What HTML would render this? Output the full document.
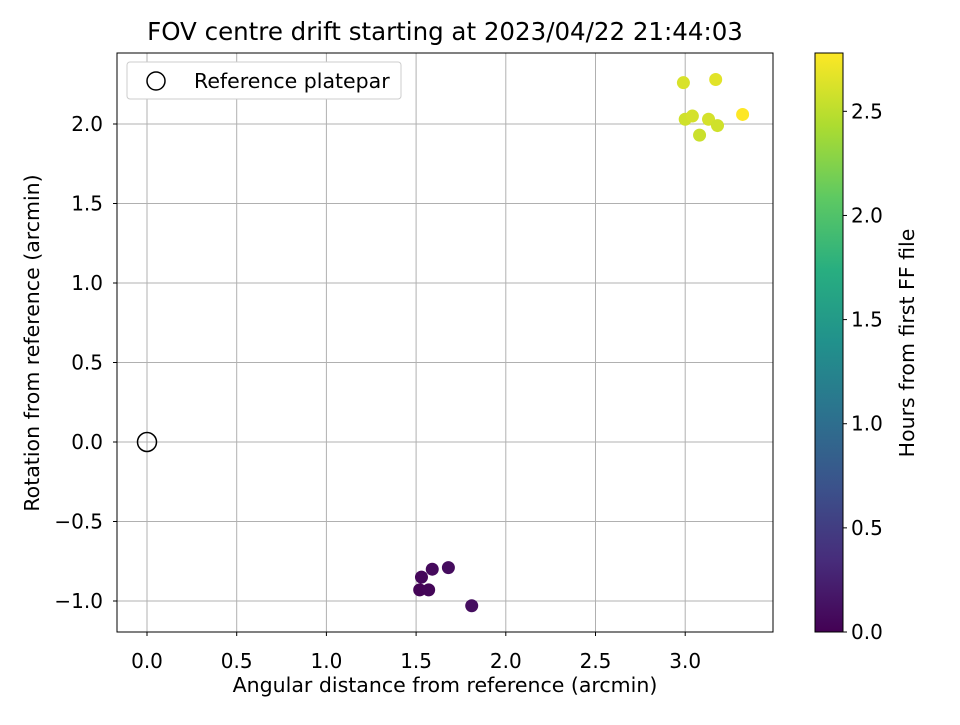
<!DOCTYPE html>
<html><head><meta charset="utf-8"><style>
body{margin:0;background:#fff;}
svg text{font-family:"DejaVu Sans","Liberation Sans",sans-serif;fill:#000;}
</style></head><body>
<svg id="chart" width="960" height="720" xmlns="http://www.w3.org/2000/svg">
<defs>
<linearGradient id="vir" x1="0" y1="1" x2="0" y2="0">
<stop offset="0" stop-color="#440154"/><stop offset="0.125" stop-color="#472d7b"/><stop offset="0.25" stop-color="#3b528b"/><stop offset="0.375" stop-color="#2c728e"/><stop offset="0.5" stop-color="#21918c"/><stop offset="0.625" stop-color="#28ae80"/><stop offset="0.75" stop-color="#5ec962"/><stop offset="0.875" stop-color="#addc30"/><stop offset="1" stop-color="#fde725"/>
</linearGradient>
</defs>
<rect x="0" y="0" width="960" height="720" fill="#fff"/>
<g id="grid"></g>
<g id="marks"></g>
<rect x="117" y="53" width="656" height="579" fill="none" stroke="#000" stroke-width="1"/>
<g id="axes"></g>
<text x="445" y="40" text-anchor="middle" style="font-size:24.5px">FOV centre drift starting at 2023/04/22 21:44:03</text>
<text x="445" y="692" text-anchor="middle" style="font-size:20.5px">Angular distance from reference (arcmin)</text>
<text transform="translate(39,343) rotate(-90)" text-anchor="middle" style="font-size:20.5px">Rotation from reference (arcmin)</text>
<g>
<rect x="127" y="62" width="274" height="37" rx="3" fill="#fff" stroke="#ccc"/>
<circle cx="156" cy="81" r="9" fill="none" stroke="#000" stroke-width="1.5"/>
<text x="194" y="88" style="font-size:20.5px">Reference platepar</text>
</g>
<rect x="815" y="53" width="28" height="579" fill="url(#vir)" stroke="#000" stroke-width="1"/>
<g id="cbar"></g>
<text transform="translate(914,343) rotate(-90)" text-anchor="middle" style="font-size:20.5px">Hours from first FF file</text>
</svg>
<script>
const xVals=[2.99,3.17,3.00,3.04,3.13,3.18,3.08,3.32,1.52,1.57,1.53,1.59,1.68,1.81];
const yVals=[2.26,2.28,2.03,2.05,2.03,1.99,1.93,2.06,-0.93,-0.93,-0.85,-0.80,-0.79,-1.03];
const hours=[2.62,2.66,2.58,2.60,2.60,2.58,2.56,2.78,0.02,0.04,0.05,0.07,0.09,0.10];
const xTicks=[0,0.5,1,1.5,2,2.5,3];
const yTicks=[-1,-0.5,0,0.5,1,1.5,2];
const cTicks=[0,0.5,1,1.5,2,2.5];
const refPoint=[0,0];
const cMax=2.78;
const NS="http://www.w3.org/2000/svg";
const X=v=>147+v*179.4, Y=v=>442-v*159, C=v=>632-v*(579/cMax);
const stops=[[68,1,84],[71,45,123],[59,82,139],[44,114,142],[33,145,140],[40,174,128],[94,201,98],[173,220,48],[253,231,37]];
function vir(t){t=Math.max(0,Math.min(1,t))*8;const i=Math.min(7,Math.floor(t)),f=t-i;const a=stops[i],b=stops[i+1];return `rgb(${a.map((c,k)=>Math.round(c+(b[k]-c)*f)).join(',')})`;}
function mk(tag,attrs,parent){const e=document.createElementNS(NS,tag);for(const k in attrs)e.setAttribute(k,attrs[k]);document.getElementById(parent).appendChild(e);return e;}
const fmt=v=>(v<0?'\u2212':'')+Math.abs(v).toFixed(1);
xTicks.forEach(v=>{
const g=mk('line',{x1:X(v),x2:X(v),y1:53,y2:632,stroke:'#b0b0b0','stroke-width':1},'grid');


const t=mk('line',{x1:X(v),x2:X(v),y1:632,y2:636,stroke:'#000'},'axes');


const l=mk('text',{x:X(v),y:668,'text-anchor':'middle',style:'font-size:20px'},'axes');l.textContent=fmt(v);


});
yTicks.forEach(v=>{
const g=mk('line',{x1:117,x2:773,y1:Y(v),y2:Y(v),stroke:'#b0b0b0','stroke-width':1},'grid');


const t=mk('line',{x1:113,x2:117,y1:Y(v),y2:Y(v),stroke:'#000'},'axes');


const l=mk('text',{x:103,y:Y(v)+7,'text-anchor':'end',style:'font-size:20px'},'axes');l.textContent=fmt(v);


});
cTicks.forEach(v=>{
const t=mk('line',{x1:843,x2:847,y1:C(v),y2:C(v),stroke:'#000'},'cbar');


const l=mk('text',{x:851,y:C(v)+7,style:'font-size:20px'},'cbar');l.textContent=v.toFixed(1);


});
const r=mk('circle',{cx:X(refPoint[0]),cy:Y(refPoint[1]),r:9.5,fill:'none',stroke:'#000','stroke-width':1.5},'marks');


xVals.forEach((x,i)=>{
const p=mk('circle',{cx:X(x),cy:Y(yVals[i]),r:6.5,fill:vir(hours[i]/cMax)},'marks');


});
</script>
</body></html>
